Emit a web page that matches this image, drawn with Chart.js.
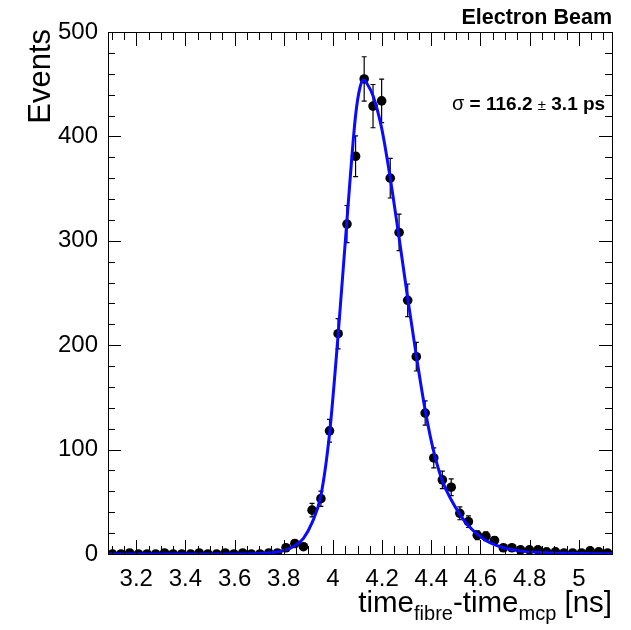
<!DOCTYPE html>
<html>
<head>
<meta charset="utf-8">
<script src="https://cdn.jsdelivr.net/npm/chart.js@4/dist/chart.umd.min.js"></script>
<style>
  html, body { margin: 0; padding: 0; background: #fff; }
</style>
</head>
<body>
<canvas id="c" width="631" height="630"></canvas>
<script>
// bin centres of the histogram [ns]
const binCenters = [
  3.103, 3.138, 3.173, 3.209, 3.244, 3.279, 3.315, 3.350, 3.385, 3.421,
  3.456, 3.491, 3.527, 3.562, 3.597, 3.633, 3.668, 3.703, 3.739, 3.774,
  3.809, 3.845, 3.880, 3.915, 3.951, 3.986, 4.021, 4.057, 4.092, 4.127,
  4.163, 4.198, 4.233, 4.269, 4.304, 4.339, 4.375, 4.410, 4.445, 4.481,
  4.516, 4.551, 4.587, 4.622, 4.657, 4.693, 4.728, 4.763, 4.799, 4.834,
  4.869, 4.905, 4.940, 4.975, 5.011, 5.046, 5.081, 5.117
];
const counts = [
  0, 0, 1, 0, 0, 0, 1, 0, 0, 0, 1, 0, 0, 1, 0, 1, 0, 0, 1,
  1, 6, 10, 7, 42, 53, 118, 211, 316, 381,
  455, 429, 434, 360, 308, 243, 189, 135, 92, 71,
  64, 39, 31, 18, 17, 13, 6, 6, 4, 4,
  4, 2, 2, 1, 1, 1, 3, 2, 1
];
const countErrors = [
  0, 0, 1, 0, 0, 0, 1, 0, 0, 0, 1, 0, 0, 1, 0, 1, 0, 0, 1,
  1, 2.4, 3.2, 2.6, 6.5, 7.3, 10.9, 14.5, 17.8, 19.5,
  21.3, 20.7, 20.8, 19.0, 17.5, 15.6, 13.7, 11.6, 9.6, 8.4,
  8.0, 6.2, 5.6, 4.2, 4.1, 3.6, 2.4, 2.4, 2, 2,
  2, 1.4, 1.4, 1, 1, 1, 1.7, 1.4, 1
];

// fit curve
const fitX = [
  3.085, 3.6, 3.7, 3.774, 3.809, 3.845, 3.880, 3.915, 3.951, 3.986,
  4.021, 4.057, 4.092, 4.110, 4.125, 4.140, 4.163, 4.198, 4.233, 4.269,
  4.304, 4.339, 4.375, 4.410, 4.445, 4.481, 4.516, 4.551, 4.587, 4.622,
  4.657, 4.693, 4.76, 4.87, 5.0, 5.135
];
const fitY = [
  0, 0.1, 0.5, 2, 4, 8, 15, 30, 56, 115,
  210, 320, 420, 447, 454, 450, 439, 408, 360, 303,
  245, 190, 138, 98, 70, 52, 38, 27, 19, 13,
  9, 6, 3, 1.2, 0.5, 0.2
];

const xTickValues = [3.2, 3.4, 3.6, 3.8, 4, 4.2, 4.4, 4.6, 4.8, 5];
const yTickValues = [0, 100, 200, 300, 400, 500];
const xRange = [3.085, 5.135];
const yRange = [0, 500];

const FONT = '"Liberation Sans", Arial, Helvetica, sans-serif';

// error bars drawn under the markers
const errorBars = {
  id: 'errorBars',
  beforeDatasetsDraw(chart) {
    const ctx = chart.ctx;
    const x = chart.scales.x, y = chart.scales.y;
    ctx.save();
    ctx.strokeStyle = '#000';
    ctx.lineWidth = 1.2;
    for (let i = 0; i < counts.length; i++) {
      if (!countErrors[i]) continue;
      const px = x.getPixelForValue(binCenters[i]);
      const y1 = y.getPixelForValue(counts[i] + countErrors[i]);
      const y2 = y.getPixelForValue(Math.max(0, counts[i] - countErrors[i]));
      ctx.beginPath();
      ctx.moveTo(px, y1); ctx.lineTo(px, y2);
      ctx.moveTo(px - 2.5, y1); ctx.lineTo(px + 2.5, y1);
      ctx.moveTo(px - 2.5, y2); ctx.lineTo(px + 2.5, y2);
      ctx.stroke();
    }
    ctx.restore();
  }
};

// ROOT style frame with inward ticks, titles and labels
const frame = {
  id: 'frame',
  afterDraw(chart) {
    const ctx = chart.ctx;
    const a = chart.chartArea;
    const x = chart.scales.x, y = chart.scales.y;
    ctx.save();
    ctx.strokeStyle = '#000';
    ctx.lineWidth = 1;
    ctx.strokeRect(a.left + 0.5, a.top + 0.5, a.right - a.left, a.bottom - a.top);

    ctx.beginPath();
    for (let v = 3.1; v <= 5.13; v += 0.05) {
      const px = Math.round(x.getPixelForValue(v)) + 0.5;
      const major = Math.abs(v * 5 - Math.round(v * 5)) < 0.01;
      const len = major ? 14 : 8;
      ctx.moveTo(px, a.bottom); ctx.lineTo(px, a.bottom - len);
      ctx.moveTo(px, a.top); ctx.lineTo(px, a.top + len);
    }
    for (let v = 0; v <= 500; v += 20) {
      const py = Math.round(y.getPixelForValue(v)) + 0.5;
      const len = v % 100 === 0 ? 13 : 7;
      ctx.moveTo(a.left, py); ctx.lineTo(a.left + len, py);
      ctx.moveTo(a.right, py); ctx.lineTo(a.right - len, py);
    }
    ctx.stroke();

    ctx.fillStyle = '#000';
    // y title
    ctx.save();
    ctx.translate(50, 29);
    ctx.rotate(-Math.PI / 2);
    ctx.font = '31px ' + FONT;
    ctx.textAlign = 'right';
    ctx.textBaseline = 'alphabetic';
    ctx.fillText('Events', 0, 0);
    ctx.restore();

    // x title with subscripts
    const big = '29.5px ' + FONT, small = '20px ' + FONT;
    const parts = [
      ['time', big, 0], ['fibre', small, 8], ['-time', big, 0],
      ['mcp', small, 8], [' [ns]', big, 0]
    ];
    let total = 0;
    parts.forEach(p => { ctx.font = p[1]; total += ctx.measureText(p[0]).width; });
    let cx = a.right - total;
    ctx.textAlign = 'left';
    parts.forEach(p => {
      ctx.font = p[1];
      ctx.fillText(p[0], cx, 612 + p[2]);
      cx += ctx.measureText(p[0]).width;
    });

    // header
    ctx.font = 'bold 21.5px ' + FONT;
    ctx.textAlign = 'right';
    ctx.fillText('Electron Beam', a.right, 24);

    // fit result
    ctx.textAlign = 'left';
    let sx = 452;
    const sy = 110;
    const seg = [
      ['\u03c3', '20px ' + FONT],
      [' = 116.2 ', 'bold 19px ' + FONT],
      ['\u00b1', '15px ' + FONT],
      [' 3.1 ps', 'bold 19px ' + FONT]
    ];
    seg.forEach(s => {
      ctx.font = s[1];
      ctx.fillText(s[0], sx, sy);
      sx += ctx.measureText(s[0]).width;
    });
    ctx.restore();
  }
};

const histPoints = binCenters.map((v, i) => ({ x: v, y: counts[i] }));
const fitPoints = fitX.map((v, i) => ({ x: v, y: fitY[i] }));

new Chart(document.getElementById('c'), {
  type: 'scatter',
  data: {
    datasets: [{
      label: 'data',
      data: histPoints,
      pointRadius: 4.8,
      pointBackgroundColor: '#000',
      pointBorderColor: '#000',
      pointBorderWidth: 0,
      showLine: false,
      order: 2
    }, {
      label: 'fit',
      type: 'line',
      data: fitPoints,
      borderColor: '#0a0aff',
      borderWidth: 3,
      pointRadius: 0,
      cubicInterpolationMode: 'monotone',
      fill: false,
      order: 1
    }]
  },
  options: {
    responsive: false,
    animation: false,
    devicePixelRatio: 1,
    layout: { padding: { top: 32, right: 19, left: 0, bottom: 0 } },
    plugins: { legend: { display: false }, tooltip: { enabled: false } },
    scales: {
      x: {
        type: 'linear',
        min: xRange[0], max: xRange[1],
        grid: { display: false },
        border: { display: false },
        afterBuildTicks: s => { s.ticks = xTickValues.map(v => ({ value: v })); },
        afterFit: s => { s.height = 76; },
        ticks: {
          color: '#000',
          padding: 3,
          maxRotation: 0,
          autoSkip: false,
          font: { size: 24, family: FONT },
          callback: v => String(v)
        }
      },
      y: {
        type: 'linear',
        min: yRange[0], max: yRange[1],
        grid: { display: false },
        border: { display: false },
        afterBuildTicks: s => { s.ticks = yTickValues.map(v => ({ value: v })); },
        afterFit: s => { s.width = 108; },
        ticks: {
          color: '#000',
          padding: 2,
          autoSkip: false,
          font: { size: 24, family: FONT },
          callback: v => String(v)
        }
      }
    }
  },
  plugins: [errorBars, frame]
});
</script>
</body>
</html>
